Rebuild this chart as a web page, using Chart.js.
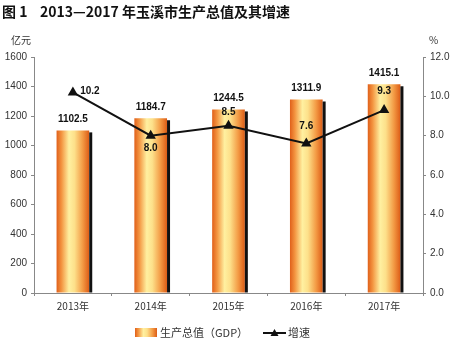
<!DOCTYPE html>
<html>
<head>
<meta charset="utf-8">
<script src="https://cdn.jsdelivr.net/npm/chart.js@4"></script>
<style>
  html, body { margin: 0; padding: 0; background: #fff; }
  #wrap { width: 450px; height: 347px; position: relative; }
</style>
</head>
<body>
<div id="wrap"><canvas id="chart" width="450" height="347"></canvas></div>
<script>
const years = ["2013年", "2014年", "2015年", "2016年", "2017年"];
const gdpValues = [1102.5, 1184.7, 1244.5, 1311.9, 1415.1];
const growthValues = [10.2, 8.0, 8.5, 7.6, 9.3];
const gdpLabels = ["1102.5", "1184.7", "1244.5", "1311.9", "1415.1"];
const growthLabels = ["10.2", "8.0", "8.5", "7.6", "9.3"];
// label offsets for growth values (dx, dy from the point)
const growthLabelOffsets = [[17, -1], [0, 13], [0, -14], [0, -17], [0, -19]];

const FONT = "'Liberation Sans', Arial, 'Noto Sans CJK SC', sans-serif";
const CJK = "'Noto Sans CJK SC', 'Liberation Sans', sans-serif";

function barGradient(ctx, x0, x1) {
  const g = ctx.createLinearGradient(x0, 0, x1, 0);
  g.addColorStop(0, "#e0601a");
  g.addColorStop(0.15, "#f39440");
  g.addColorStop(0.38, "#fff0a0");
  g.addColorStop(0.55, "#fde08a");
  g.addColorStop(0.8, "#f39a44");
  g.addColorStop(1, "#dc5c16");
  return g;
}

const decorPlugin = {
  id: "decor",
  afterDatasetDraw(chart, args) {
    if (args.index !== 0) return;
    const ctx = chart.ctx;
    const meta = chart.getDatasetMeta(0);
    ctx.save();
    ctx.fillStyle = "#111";
    meta.data.forEach((bar) => {
      const right = bar.x + bar.width / 2;
      ctx.fillRect(right, bar.y + 2, 3, bar.base - bar.y - 2);
    });
    ctx.restore();
  },
  afterDatasetsDraw(chart) {
    const ctx = chart.ctx;
    ctx.save();
    ctx.fillStyle = "#111";
    ctx.font = "bold 10px " + FONT;
    ctx.textAlign = "center";
    ctx.textBaseline = "middle";
    chart.getDatasetMeta(0).data.forEach((bar, i) => {
      ctx.fillText(gdpLabels[i], bar.x, bar.y - 11);
    });
    chart.getDatasetMeta(1).data.forEach((pt, i) => {
      const [dx, dy] = growthLabelOffsets[i];
      ctx.fillText(growthLabels[i], pt.x + dx, pt.y + dy);
    });
    ctx.restore();
  },
  afterDraw(chart) {
    const ctx = chart.ctx;
    ctx.save();
    // title
    ctx.fillStyle = "#111";
    ctx.textBaseline = "middle";
    ctx.textAlign = "left";
    ctx.font = "bold 14px " + CJK;
    ctx.fillText("图 1", 2, 12);
    ctx.fillText("2013—2017 年玉溪市生产总值及其增速", 40, 12);
    // units
    ctx.font = "10px " + CJK;
    ctx.fillStyle = "#333";
    ctx.fillText("亿元", 11, 40);
    ctx.fillText("%", 429, 40);
    // legend
    ctx.fillStyle = barGradient(ctx, 135, 157);
    ctx.fillRect(135, 328, 22, 9);
    ctx.fillStyle = "#333";
    ctx.font = "11px " + CJK;
    ctx.fillText("生产总值（GDP）", 160, 333);
    ctx.strokeStyle = "#111";
    ctx.lineWidth = 2;
    ctx.beginPath();
    ctx.moveTo(263, 333);
    ctx.lineTo(286, 333);
    ctx.stroke();
    ctx.fillStyle = "#111";
    ctx.beginPath();
    ctx.moveTo(274.5, 329);
    ctx.lineTo(278.5, 336);
    ctx.lineTo(270.5, 336);
    ctx.closePath();
    ctx.fill();
    ctx.fillStyle = "#333";
    ctx.fillText("增速", 288, 333);
    ctx.restore();
  },
};

new Chart(document.getElementById("chart"), {
  data: {
    labels: years,
    datasets: [
      {
        type: "bar",
        label: "生产总值（GDP）",
        data: gdpValues,
        yAxisID: "y",
        order: 1,
        barPercentage: 0.42,
        categoryPercentage: 1,
        borderWidth: 0,
        backgroundColor: (c) => {
          const chart = c.chart;
          if (!chart.chartArea) return "#f4a04a";
          const xs = chart.scales.x;
          const cx = xs.getPixelForValue(c.dataIndex);
          const w = (chart.chartArea.width / years.length) * 0.42;
          return barGradient(chart.ctx, cx - w / 2, cx + w / 2);
        },
      },
      {
        type: "line",
        label: "增速",
        data: growthValues,
        yAxisID: "y1",
        order: 0,
        borderColor: "#111",
        borderWidth: 2,
        tension: 0,
        pointStyle: "triangle",
        pointRadius: 4,
        pointBackgroundColor: "#111",
        pointBorderColor: "#111",
      },
    ],
  },
  options: {
    responsive: false,
    animation: false,
    layout: { padding: { top: 57, left: 0, right: 0, bottom: 0 } },
    plugins: {
      legend: { display: false },
      tooltip: { enabled: false },
    },
    scales: {
      x: {
        grid: { display: true, drawOnChartArea: false, offset: true, tickLength: 3, color: "#888" },
        border: { color: "#888" },
        ticks: { color: "#333", font: { size: 10, family: CJK }, padding: 4 },
        afterFit: (s) => { s.height = 54; },
      },
      y: {
        position: "left",
        min: 0,
        max: 1600,
        ticks: {
          stepSize: 200,
          color: "#333",
          font: { size: 10, family: FONT },
          padding: 4,
          callback: (v) => String(v),
        },
        grid: { drawOnChartArea: false, tickLength: 3, color: "#888" },
        border: { color: "#888" },
        afterFit: (s) => { s.width = 34; },
      },
      y1: {
        position: "right",
        min: 0,
        max: 12,
        ticks: {
          stepSize: 2,
          color: "#333",
          font: { size: 10, family: FONT },
          padding: 4,
          callback: (v) => Number(v).toFixed(1),
        },
        grid: { drawOnChartArea: false, tickLength: 3, color: "#888" },
        border: { color: "#888" },
        afterFit: (s) => { s.width = 27; },
      },
    },
  },
  plugins: [decorPlugin],
});
</script>
</body>
</html>
